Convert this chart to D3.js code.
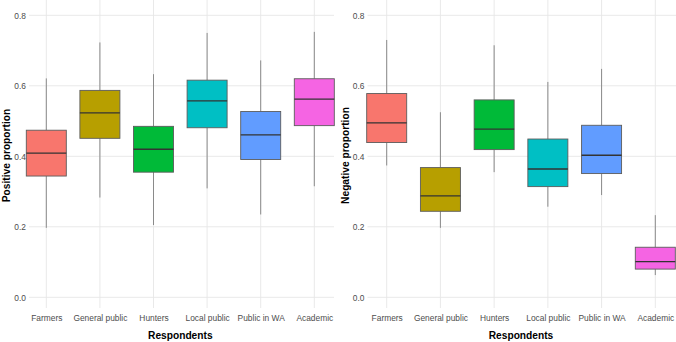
<!DOCTYPE html>
<html>
<head>
<meta charset="utf-8">
<script src="https://cdn.jsdelivr.net/npm/d3@7"></script>
<style>
  body { margin: 0; background: #fff; }
  svg { display: block; font-family: "Liberation Sans", Arial, sans-serif; }
</style>
</head>
<body>
<svg width="676" height="342"></svg>
<script>
const categories = ["Farmers", "General public", "Hunters", "Local public", "Public in WA", "Academic"];
const boxColors = ["#F8766D", "#B79F00", "#00BA38", "#00BFC4", "#619CFF", "#F564E3"];
const yTicks = [0, 0.2, 0.4, 0.6, 0.8];

// positive proportion: whisker low, Q1, median, Q3, whisker high
const posLow  = [0.197, 0.283, 0.205, 0.309, 0.235, 0.315];
const posQ1   = [0.344, 0.451, 0.355, 0.481, 0.391, 0.487];
const posMed  = [0.409, 0.523, 0.420, 0.557, 0.461, 0.562];
const posQ3   = [0.474, 0.587, 0.485, 0.616, 0.527, 0.620];
const posHigh = [0.621, 0.723, 0.633, 0.750, 0.672, 0.753];

// negative proportion
const negLow  = [0.374, 0.197, 0.355, 0.257, 0.290, 0.063];
const negQ1   = [0.439, 0.244, 0.419, 0.314, 0.351, 0.080];
const negMed  = [0.495, 0.288, 0.477, 0.364, 0.403, 0.101];
const negQ3   = [0.578, 0.368, 0.560, 0.449, 0.488, 0.142];
const negHigh = [0.730, 0.525, 0.715, 0.611, 0.648, 0.233];

const svg = d3.select("svg");

const y = d3.scaleLinear().domain([0, 0.8]).range([297.3, 15.3]);
const color = d3.scaleOrdinal().domain(categories).range(boxColors);
const panelBottom = 308;
const boxW = 40;

function drawPanel(opts) {
  const x = d3.scalePoint().domain(categories).range(opts.xRange);
  const g = svg.append("g");

  const rows = categories.map((c, i) => ({
    key: c, low: opts.low[i], q1: opts.q1[i], med: opts.med[i], q3: opts.q3[i], high: opts.high[i]
  }));

  // grid
  g.append("g").selectAll("line")
      .data(yTicks)
      .join("line")
      .attr("x1", opts.gridX[0])
      .attr("x2", opts.gridX[1])
      .attr("y1", d => y(d))
      .attr("y2", d => y(d))
      .attr("stroke", "#e6e6e6")
      .attr("stroke-width", 0.9);

  g.append("g").selectAll("line")
      .data(categories)
      .join("line")
      .attr("x1", d => x(d))
      .attr("x2", d => x(d))
      .attr("y1", 0)
      .attr("y2", panelBottom)
      .attr("stroke", "#e6e6e6")
      .attr("stroke-width", 0.9);

  // whiskers
  const box = g.append("g").selectAll("g")
      .data(rows)
      .join("g");

  box.append("line")
      .attr("x1", d => x(d.key))
      .attr("x2", d => x(d.key))
      .attr("y1", d => y(d.high))
      .attr("y2", d => y(d.q3))
      .attr("stroke", "#8a8a8a")
      .attr("stroke-width", 1);

  box.append("line")
      .attr("x1", d => x(d.key))
      .attr("x2", d => x(d.key))
      .attr("y1", d => y(d.q1))
      .attr("y2", d => y(d.low))
      .attr("stroke", "#8a8a8a")
      .attr("stroke-width", 1);

  box.append("rect")
      .attr("x", d => x(d.key) - boxW / 2)
      .attr("width", boxW)
      .attr("y", d => y(d.q3))
      .attr("height", d => y(d.q1) - y(d.q3))
      .attr("fill", d => color(d.key))
      .attr("stroke", "#5c5c5c")
      .attr("stroke-width", 0.9);

  box.append("line")
      .attr("x1", d => x(d.key) - boxW / 2)
      .attr("x2", d => x(d.key) + boxW / 2)
      .attr("y1", d => y(d.med))
      .attr("y2", d => y(d.med))
      .attr("stroke", "#333")
      .attr("stroke-width", 1.3);

  // axes
  const ya = g.append("g")
      .attr("transform", `translate(${opts.gridX[0]},0)`)
      .call(d3.axisLeft(y).tickValues(yTicks).tickSize(0).tickPadding(3).tickFormat(d3.format(".1f")));
  ya.select(".domain").remove();
  ya.selectAll("text").attr("fill", "#4d4d4d").style("font-size", "8.4px");

  const xa = g.append("g")
      .attr("transform", `translate(0,${panelBottom})`)
      .call(d3.axisBottom(x).tickSize(0).tickPadding(7.3));
  xa.select(".domain").remove();
  xa.selectAll("text").attr("fill", "#4d4d4d").style("font-size", "8.4px");

  // titles
  g.append("text")
      .attr("x", (opts.xRange[0] + opts.xRange[1]) / 2)
      .attr("y", 338.5)
      .attr("text-anchor", "middle")
      .style("font-size", "10.2px")
      .style("font-weight", "bold")
      .text("Respondents");

  g.append("text")
      .attr("transform", `translate(${opts.titleX},155.5) rotate(-90)`)
      .attr("text-anchor", "middle")
      .style("font-size", "10.2px")
      .style("font-weight", "bold")
      .text(opts.title);
}

drawPanel({
  xRange: [46.3, 314.3], gridX: [29, 334], titleX: 9.5,
  title: "Positive proportion",
  low: posLow, q1: posQ1, med: posMed, q3: posQ3, high: posHigh
});

drawPanel({
  xRange: [386.7, 655.3], gridX: [367.5, 676], titleX: 348.5,
  title: "Negative proportion",
  low: negLow, q1: negQ1, med: negMed, q3: negQ3, high: negHigh
});
</script>
</body>
</html>
